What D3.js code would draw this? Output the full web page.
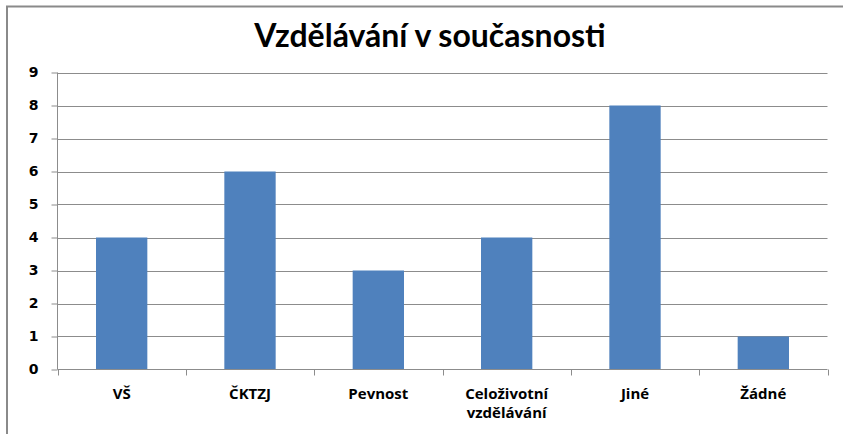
<!DOCTYPE html>
<html>
<head>
<meta charset="utf-8">
<script src="https://cdn.jsdelivr.net/npm/d3@7"></script>
<style>
  body { margin: 0; background: #fff; }
  svg { display: block; }
</style>
</head>
<body>
<div id="vis"></div>
<script>
// data
var categories = ["VŠ", "ČKTZJ", "Pevnost", "Celoživotní\nvzdělávání", "Jiné", "Žádné"];
var values = [4, 6, 3, 4, 8, 1];
var yTicks = [0, 1, 2, 3, 4, 5, 6, 7, 8, 9];

var width = 843,
    height = 434;

var svg = d3.select("#vis").append("svg")
    .attr("width", width)
    .attr("height", height);

// chart frame (only top and left edges show)
svg.append("path")
    .attr("d", "M7,434 V6.5 H843")
    .attr("fill", "none")
    .attr("stroke", "#8a8a8a")
    .attr("stroke-width", 2);

var plotLeft = 57.5, plotRight = 827.5, plotTop = 72.5, plotBottom = 369.5;

var x = d3.scaleBand()
    .domain(categories)
    .range([plotLeft, plotRight])
    .paddingInner(0.6)
    .paddingOuter(0.3);

var y = d3.scaleLinear()
    .domain([0, 9])
    .range([plotBottom, plotTop]);

// title
svg.append("text")
    .attr("x", 430)
    .attr("y", 47)
    .attr("text-anchor", "middle")
    .style("font-family", "Lato, 'Open Sans', sans-serif")
    .style("font-weight", "bold")
    .style("font-size", "32px")
    .attr("fill", "#000")
    .text("Vzdělávání v současnosti");

// gridlines
svg.append("g")
    .selectAll("line")
    .data(yTicks.filter(function(d) { return d > 0; }))
    .enter().append("line")
    .attr("x1", plotLeft)
    .attr("x2", plotRight)
    .attr("y1", function(d) { return Math.round(y(d)) + 0.5; })
    .attr("y2", function(d) { return Math.round(y(d)) + 0.5; })
    .attr("stroke", "#8c8c8c")
    .attr("stroke-width", 1);

// bars
svg.append("g")
    .selectAll("rect")
    .data(values)
    .enter().append("rect")
    .attr("x", function(d, i) { return x(categories[i]); })
    .attr("width", x.bandwidth())
    .attr("y", function(d) { return y(d); })
    .attr("height", function(d) { return y(0) - y(d); })
    .attr("fill", "#4f81bd");

// y axis
var yAxis = svg.append("g")
    .attr("transform", "translate(" + plotLeft + ",0)")
    .call(d3.axisLeft(y).tickValues(yTicks).tickSize(6).tickPadding(13).tickFormat(d3.format("d")));
yAxis.select(".domain").attr("stroke", "#8c8c8c").attr("d", "M0," + plotTop + "V" + plotBottom);
yAxis.selectAll(".tick line").attr("stroke", "#8c8c8c");
yAxis.selectAll("text")
    .style("font-family", "'DejaVu Sans', Verdana, sans-serif")
    .style("font-weight", "bold")
    .style("font-size", "14px")
    .attr("fill", "#000");

// x axis with ticks between categories
var xAxis = svg.append("g")
    .attr("transform", "translate(0," + plotBottom + ")");
xAxis.append("line")
    .attr("x1", plotLeft).attr("x2", plotRight)
    .attr("stroke", "#8c8c8c");
var step = x.step();
xAxis.selectAll(".sep")
    .data(d3.range(categories.length + 1))
    .enter().append("line")
    .attr("class", "sep")
    .attr("x1", function(i) { return Math.round(plotLeft + i * step) + 0.5; })
    .attr("x2", function(i) { return Math.round(plotLeft + i * step) + 0.5; })
    .attr("y1", 0).attr("y2", 6)
    .attr("stroke", "#8c8c8c");

var labels = xAxis.selectAll(".lbl")
    .data(categories)
    .enter().append("text")
    .attr("class", "lbl")
    .attr("text-anchor", "middle")
    .attr("transform", function(d) { return "translate(" + (x(d) + x.bandwidth() / 2) + ",29)"; })
    .style("font-family", "'Open Sans', sans-serif")
    .style("font-weight", "bold")
    .style("font-size", "15px")
    .attr("fill", "#000");
labels.selectAll("tspan")
    .data(function(d) { return d.split("\n"); })
    .enter().append("tspan")
    .attr("x", 0)
    .attr("dy", function(d, i) { return i === 0 ? 0 : 19; })
    .text(function(d) { return d; });
</script>
</body>
</html>
